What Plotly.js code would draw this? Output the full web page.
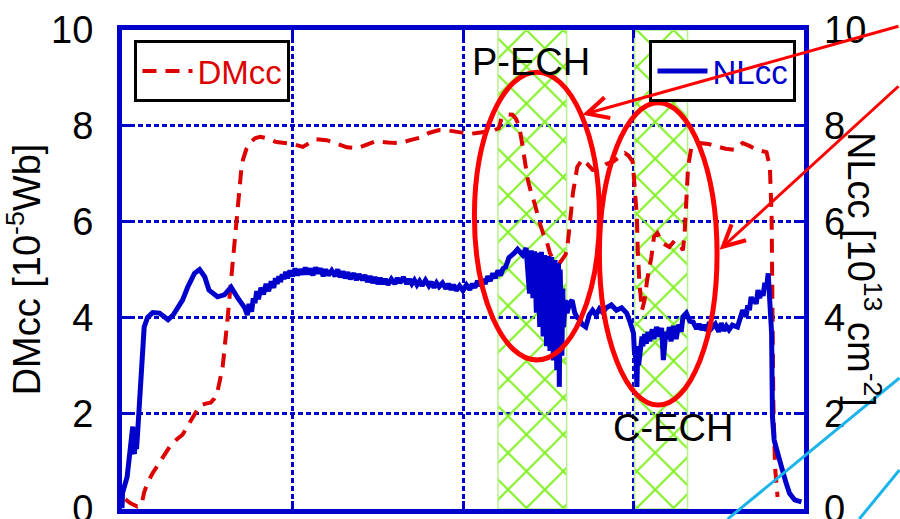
<!DOCTYPE html>
<html>
<head>
<meta charset="utf-8">
<script src="https://cdn.plot.ly/plotly-3.0.1.min.js"></script>
<style>html,body{margin:0;padding:0;background:#fff;}#chart{width:900px;height:519px;}</style>
</head>
<body>
<div id="chart"></div>
<script>
// ---- data (x in arbitrary time units, 4 grid divisions) ----
const tDM = [0.02,0.05,0.09,0.115,0.13,0.15,0.18,0.22,0.25,0.28,0.32,0.355,0.38,0.40,0.43,0.455,0.49,0.52,0.54,0.56,0.575,0.59,0.60,0.61,0.62,0.63,0.64,0.65,0.66,0.67,0.68,0.69,0.70,0.71,0.73,0.75,0.78,0.81,0.85,0.905,0.95,1.00,1.06,1.10,1.14,1.20,1.26,1.32,1.38,1.44,1.49,1.56,1.63,1.69,1.745,1.80,1.86,1.92,1.98,2.04,2.08,2.13,2.18,2.21,2.225,2.26,2.29,2.31,2.33,2.35,2.37,2.38,2.40,2.42,2.45,2.47,2.49,2.51,2.53,2.57,2.60,2.61,2.625,2.645,2.67,2.70,2.73,2.76,2.80,2.84,2.88,2.92,2.95,2.97,2.995,3.005,3.02,3.025,3.035,3.05,3.065,3.08,3.105,3.12,3.14,3.17,3.21,3.24,3.28,3.29,3.30,3.31,3.32,3.34,3.39,3.44,3.49,3.54,3.59,3.64,3.68,3.72,3.78,3.80,3.81,3.815,3.82,3.83,3.845];
const dmcc = [0.2,0.12,0.05,0.1,0.35,0.55,0.75,0.98,1.15,1.3,1.45,1.55,1.7,1.82,2.0,2.15,2.2,2.22,2.3,2.45,2.7,2.96,3.3,3.6,4.0,4.4,4.8,5.2,5.6,6.0,6.4,6.8,7.1,7.3,7.52,7.64,7.74,7.77,7.74,7.66,7.64,7.62,7.56,7.65,7.72,7.7,7.62,7.55,7.53,7.62,7.68,7.65,7.64,7.7,7.75,7.85,7.91,7.9,7.86,7.83,7.85,7.88,7.9,7.95,8.15,8.24,8.23,8.15,7.98,7.56,7.14,6.87,6.6,6.38,5.97,5.75,5.6,5.34,5.2,5.15,5.3,5.4,5.9,6.6,7.14,7.3,7.2,7.08,7.1,7.2,7.25,7.35,7.43,7.38,7.25,6.8,6.1,5.4,4.7,4.15,4.36,4.78,5.26,5.68,5.76,5.55,5.47,5.6,5.47,5.4,5.76,6.45,7.14,7.56,7.64,7.62,7.56,7.52,7.5,7.64,7.58,7.5,7.45,7.14,6.1,4.36,2.27,0.88,0.25];

const tNL = [0.00,0.003,0.03,0.05,0.058,0.063,0.068,0.073,0.08,0.085,0.09,0.10,0.11,0.12,0.13,0.15,0.18,0.22,0.25,0.27,0.30,0.32,0.355,0.385,0.425,0.455,0.485,0.51,0.56,0.60,0.64,0.68,0.70,0.72,0.735,0.745,0.76,0.77,0.78,0.79,0.80,0.815,0.83,0.845,0.86,0.875,0.89,0.90,0.91,0.92,0.93,0.94,0.95,0.96,0.97,0.985,1.00,1.015,1.03,1.045,1.06,1.075,1.09,1.105,1.12,1.135,1.15,1.165,1.18,1.195,1.21,1.23,1.25,1.265,1.28,1.295,1.31,1.325,1.34,1.36,1.375,1.39,1.41,1.425,1.44,1.455,1.47,1.485,1.50,1.515,1.53,1.545,1.56,1.58,1.60,1.615,1.63,1.65,1.67,1.685,1.70,1.715,1.73,1.745,1.76,1.78,1.80,1.815,1.83,1.845,1.86,1.88,1.90,1.915,1.93,1.945,1.96,1.98,2.00,2.02,2.04,2.055,2.07,2.085,2.10,2.115,2.13,2.145,2.16,2.175,2.19,2.205,2.22,2.235,2.25,2.27,2.30,2.32,2.35,2.37,2.39,2.40,2.41,2.42,2.43,2.44,2.45,2.46,2.47,2.48,2.49,2.50,2.51,2.52,2.53,2.54,2.55,2.56,2.565,2.57,2.58,2.585,2.59,2.60,2.61,2.625,2.64,2.655,2.67,2.685,2.70,2.72,2.74,2.76,2.78,2.80,2.82,2.84,2.87,2.90,2.93,2.96,2.98,3.00,3.005,3.015,3.02,3.025,3.03,3.04,3.05,3.055,3.065,3.075,3.085,3.095,3.11,3.12,3.135,3.15,3.165,3.175,3.19,3.20,3.21,3.22,3.235,3.25,3.265,3.28,3.29,3.31,3.33,3.35,3.37,3.385,3.40,3.415,3.43,3.445,3.46,3.48,3.50,3.515,3.53,3.545,3.56,3.58,3.61,3.64,3.66,3.67,3.68,3.69,3.70,3.71,3.72,3.73,3.74,3.75,3.76,3.77,3.78,3.79,3.81,3.815,3.82,3.825,3.845,3.87,3.895,3.915,3.945,3.985,4.0];
const nlcc = [0.02,0.33,0.67,1.2,1.55,1.72,1.2,1.15,1.6,1.25,1.5,2.07,2.76,3.32,3.8,4.0,4.1,4.09,4.02,3.95,4.05,4.15,4.36,4.63,4.92,5.0,4.85,4.57,4.43,4.47,4.63,4.4,4.3,4.2,4.05,4.28,4.12,4.4,4.3,4.55,4.38,4.62,4.48,4.7,4.55,4.75,4.62,4.82,4.7,4.86,4.74,4.9,4.8,4.95,4.82,4.98,4.86,5.02,4.88,5.0,4.9,5.04,4.9,5.02,4.88,5.04,4.92,5.02,4.86,5.0,4.88,4.98,4.86,5.0,4.84,4.96,4.82,4.94,4.8,4.92,4.78,4.9,4.78,4.88,4.74,4.86,4.72,4.84,4.7,4.82,4.7,4.8,4.68,4.8,4.7,4.82,4.72,4.84,4.7,4.8,4.7,4.78,4.68,4.76,4.66,4.78,4.66,4.74,4.62,4.72,4.64,4.72,4.6,4.7,4.58,4.68,4.56,4.66,4.56,4.68,4.58,4.7,4.62,4.76,4.66,4.8,4.7,4.86,4.76,4.92,4.82,4.98,4.88,5.02,5.05,5.25,5.34,5.42,5.3,5.45,4.5,5.4,4.4,5.38,4.1,5.35,3.8,5.37,3.6,5.3,3.4,5.28,3.3,5.26,3.1,5.2,2.9,5.13,2.55,5.0,3.2,4.6,3.8,4.36,4.09,4.3,4.36,4.1,4.0,3.95,3.85,3.8,4.05,4.15,4.05,4.18,4.1,4.2,4.26,4.15,4.2,4.09,3.9,3.67,3.3,3.11,2.55,3.4,3.0,3.25,3.6,3.4,3.65,3.45,3.7,3.5,3.75,3.55,3.8,3.6,3.78,3.11,3.7,3.55,3.8,3.5,3.82,3.55,3.85,3.7,4.01,4.09,3.92,3.9,3.76,3.86,3.74,3.84,3.72,3.9,3.78,3.86,3.7,3.88,3.72,3.82,3.74,3.84,3.8,4.15,4.02,4.25,4.15,4.43,4.3,4.4,4.28,4.57,4.4,4.55,4.45,4.72,4.6,4.92,3.67,1.93,1.58,1.44,1.17,0.81,0.54,0.33,0.19,0.15];

// ECH heating windows: [start, end]
const echNames = ['P-ECH', 'C-ECH'];
const echStart = [2.205, 3.007];
const echEnd   = [2.608, 3.317];
const echTop   = [10, 10];

const yTicks = [0, 2, 4, 6, 8, 10];

// ---- styling ----
const BLUE = '#0000cc';
const FONT = 'Liberation Sans, Arial, Helvetica, sans-serif';
const FS = 38;

const bands = {
  type: 'bar',
  x: echStart.map((s, i) => (s + echEnd[i]) / 2),
  width: echStart.map((s, i) => echEnd[i] - s),
  y: echTop,
  base: 0,
  xaxis: 'x', yaxis: 'y',
  showlegend: false,
  hoverinfo: 'skip',
  marker: {
    color: 'rgba(0,0,0,0)',
    line: {color: '#b8f090', width: 1.5},
    pattern: {shape: 'x', fillmode: 'overlay', fgcolor: '#80f020', bgcolor: 'rgba(0,0,0,0)', size: 26, solidity: 0.15, fgopacity: 1}
  }
};

const dmTrace = {
  type: 'scatter', mode: 'lines', name: 'DMcc',
  x: tDM, y: dmcc, xaxis: 'x', yaxis: 'y',
  line: {color: '#dd0000', width: 4, dash: '14px,9px'},
  legend: 'legend'
};

const nlTrace = {
  type: 'scatter', mode: 'lines', name: 'NLcc',
  x: tNL, y: nlcc, xaxis: 'x', yaxis: 'y2',
  line: {color: BLUE, width: 5},
  legend: 'legend2'
};

const gridStyle = {showgrid: true, gridcolor: BLUE, gridwidth: 3, griddash: '5px,3px'};

const layout = {
  width: 900, height: 519,
  margin: {l: 122, r: 96, t: 30, b: 10},
  paper_bgcolor: '#fff', plot_bgcolor: '#fff',
  font: {family: FONT, size: FS, color: '#000'},
  barmode: 'overlay',
  xaxis: Object.assign({
    range: [0, 4], dtick: 1, tick0: 0, showticklabels: false,
    showline: true, linecolor: BLUE, linewidth: 5, mirror: 'ticks',
    ticks: 'inside', ticklen: 8, tickwidth: 3, tickcolor: BLUE,
    zeroline: false, fixedrange: true
  }, gridStyle),
  yaxis: Object.assign({
    range: [0, 10], tickvals: yTicks, ticktext: yTicks.map(String),
    showline: true, linecolor: BLUE, linewidth: 5, mirror: true,
    ticks: 'inside', ticklen: 8, tickwidth: 3, tickcolor: BLUE,
    ticklabelstandoff: 16, ticklabeloverflow: 'allow',
    tickfont: {size: FS, color: '#000'},
    zeroline: false, fixedrange: true,
    title: {text: 'DMcc [10<sup>-5</sup>Wb]', font: {size: FS, color: '#000'}, standoff: 2}
  }, gridStyle),
  yaxis2: {
    range: [0, 10], tickvals: yTicks, ticktext: yTicks.map(String),
    overlaying: 'y', side: 'right', showgrid: false, zeroline: false,
    showline: false,
    ticks: 'inside', ticklen: 8, tickwidth: 3, tickcolor: BLUE,
    ticklabelstandoff: 19, ticklabeloverflow: 'allow',
    tickfont: {size: FS, color: '#000'}, fixedrange: true
  },
  legend: {
    x: 0.0183, y: 0.979, xanchor: 'left', yanchor: 'top',
    bgcolor: '#fff', bordercolor: '#000', borderwidth: 3,
    itemwidth: 50,
    font: {size: 33, color: '#dd0000'}
  },
  legend2: {
    x: 0.989, y: 0.979, xanchor: 'right', yanchor: 'top',
    bgcolor: '#fff', bordercolor: '#000', borderwidth: 3,
    itemwidth: 50,
    font: {size: 33, color: BLUE}
  },
  shapes: [
    {type: 'circle', xref: 'x', yref: 'y', x0: 2.067, x1: 2.80, y0: 3.11, y1: 9.12, line: {color: '#ff0000', width: 5}, layer: 'above'},
    {type: 'circle', xref: 'x', yref: 'y', x0: 2.80, x1: 3.49, y0: 2.17, y1: 8.48, line: {color: '#ff0000', width: 5}, layer: 'above'},
    {type: 'line', xref: 'paper', yref: 'paper', x0: 0.888, y0: -0.021, x1: 1.14, y1: 0.2735, line: {color: '#1ab4ea', width: 3}, layer: 'above'},
    {type: 'line', xref: 'paper', yref: 'paper', x0: 1.081, y0: -0.021, x1: 1.14, y1: 0.0814, line: {color: '#1ab4ea', width: 3}, layer: 'above'}
  ],
  annotations: [
    {xref: 'x', yref: 'y', x: (echStart[0] + echEnd[0]) / 2 - 0.01, y: 9.33, text: echNames[0], showarrow: false, font: {size: FS, color: '#000'}},
    {xref: 'x', yref: 'y', x: 3.229, y: 1.69, text: echNames[1], showarrow: false, font: {size: FS, color: '#000'}},
    {xref: 'x', yref: 'y', x: 2.70, y: 8.23, text: '', showarrow: true, ax: 322, ay: -89, axref: 'pixel', ayref: 'pixel',
      arrowcolor: '#ff0000', arrowwidth: 3, arrowhead: 5, arrowsize: 1.4, standoff: 0},
    {xref: 'x', yref: 'y', x: 3.505, y: 5.41, text: '', showarrow: true, ax: 185, ay: -165, axref: 'pixel', ayref: 'pixel',
      arrowcolor: '#ff0000', arrowwidth: 3, arrowhead: 5, arrowsize: 1.4, standoff: 0},
    {xref: 'paper', yref: 'paper', x: 1.127, y: 0.5, text: 'NLcc [10<sup>13</sup> cm<sup>-2</sup>]', textangle: 90,
      showarrow: false, font: {size: FS, color: '#000'}}
  ]
};

Plotly.newPlot('chart', [bands, dmTrace, nlTrace], layout, {displayModeBar: false, staticPlot: true});
</script>
</body>
</html>
